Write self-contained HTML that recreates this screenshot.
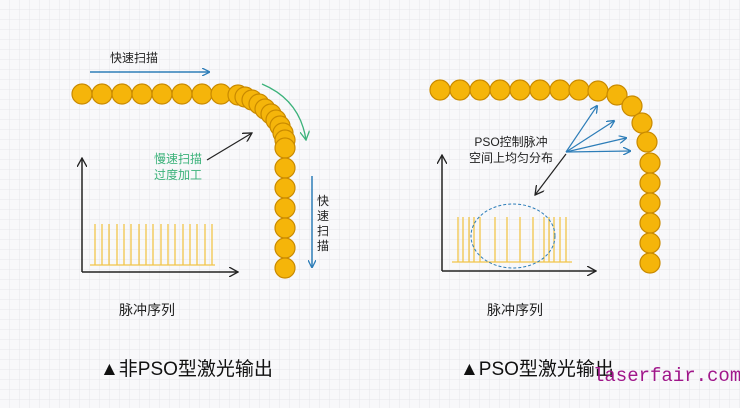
<!DOCTYPE html>
<html><head><meta charset="utf-8"><style>
html,body{margin:0;padding:0;background:#f7f7f8;}
svg{display:block;font-family:"Liberation Sans","Noto Sans CJK SC",sans-serif;}
</style></head><body>
<svg width="740" height="408" viewBox="0 0 740 408" xmlns="http://www.w3.org/2000/svg">
<defs>
<pattern id="g" width="10" height="10" patternUnits="userSpaceOnUse"><path d="M10 0V10H0" fill="none" stroke="#e6e6ea" stroke-width="1"/></pattern>
<marker id="ab" markerWidth="8" markerHeight="8" refX="7" refY="4" orient="auto" markerUnits="userSpaceOnUse"><path d="M0,0L8,4L0,8" fill="none" stroke="#2d7db8" stroke-width="1.3"/></marker>
<marker id="ak" markerWidth="10" markerHeight="10" refX="9" refY="5" orient="auto" markerUnits="userSpaceOnUse"><path d="M0,0L9,5L0,10" fill="none" stroke="#222" stroke-width="1.3"/></marker>
<marker id="ag" markerWidth="10" markerHeight="10" refX="9" refY="5" orient="auto" markerUnits="userSpaceOnUse"><path d="M0,0L9,5L0,10" fill="none" stroke="#3bb27a" stroke-width="1.3"/></marker>
</defs>
<rect width="740" height="408" fill="#f8f8fa"/>
<rect width="740" height="408" fill="url(#g)"/>
<g fill="#f5b50a" stroke="#c98a00" stroke-width="1.2">
<circle cx="82" cy="94" r="10"/><circle cx="102" cy="94" r="10"/><circle cx="122" cy="94" r="10"/><circle cx="142" cy="94" r="10"/><circle cx="162" cy="94" r="10"/><circle cx="182" cy="94" r="10"/><circle cx="202" cy="94" r="10"/><circle cx="221" cy="94" r="10"/>
<circle cx="238" cy="95" r="10"/><circle cx="245" cy="97" r="10"/><circle cx="252" cy="100" r="10"/><circle cx="259" cy="104" r="10"/><circle cx="265" cy="109" r="10"/><circle cx="271" cy="114" r="10"/><circle cx="276" cy="120" r="10"/><circle cx="280" cy="126" r="10"/><circle cx="283" cy="133" r="10"/><circle cx="285" cy="140" r="10"/><circle cx="285" cy="148" r="10"/>
<circle cx="285" cy="168" r="10"/><circle cx="285" cy="188" r="10"/><circle cx="285" cy="208" r="10"/><circle cx="285" cy="228" r="10"/><circle cx="285" cy="248" r="10"/><circle cx="285" cy="268" r="10"/>
<circle cx="440" cy="90" r="10"/><circle cx="460" cy="90" r="10"/><circle cx="480" cy="90" r="10"/><circle cx="500" cy="90" r="10"/><circle cx="520" cy="90" r="10"/><circle cx="540" cy="90" r="10"/><circle cx="560" cy="90" r="10"/><circle cx="579" cy="90" r="10"/><circle cx="598" cy="91" r="10"/>
<circle cx="617" cy="95" r="10"/><circle cx="632" cy="106" r="10"/><circle cx="642" cy="123" r="10"/><circle cx="647" cy="142" r="10"/><circle cx="650" cy="163" r="10"/><circle cx="650" cy="183" r="10"/><circle cx="650" cy="203" r="10"/><circle cx="650" cy="223" r="10"/><circle cx="650" cy="243" r="10"/><circle cx="650" cy="263" r="10"/>
</g>
<text x="110" y="62" font-size="12" fill="#222">快速扫描</text>
<line x1="90" y1="72" x2="209" y2="72" stroke="#2d7db8" stroke-width="1.5" marker-end="url(#ab)"/>
<path d="M262,84 Q300,100 306,140" fill="none" stroke="#3bb27a" stroke-width="1.3" marker-end="url(#ag)"/>
<text x="178" y="163" font-size="12" fill="#3bb27a" text-anchor="middle">慢速扫描</text>
<text x="178" y="179" font-size="12" fill="#3bb27a" text-anchor="middle">过度加工</text>
<line x1="207" y1="160" x2="252" y2="133" stroke="#222" stroke-width="1.2" marker-end="url(#ak)"/>
<line x1="312" y1="176" x2="312" y2="267" stroke="#2d7db8" stroke-width="1.5" marker-end="url(#ab)"/>
<g font-size="12" fill="#222" text-anchor="middle"><text x="323" y="205">快</text><text x="323" y="220">速</text><text x="323" y="235">扫</text><text x="323" y="250">描</text></g>
<line x1="82" y1="272" x2="82" y2="158" stroke="#222" stroke-width="1.5" marker-end="url(#ak)"/>
<line x1="82" y1="272" x2="238" y2="272" stroke="#222" stroke-width="1.5" marker-end="url(#ak)"/>
<g fill="none" stroke="#f2c54a" stroke-width="1.3">
<path d="M90,265 H215"/>
<path d="M95,265 V224 M102,265 V224 M109,265 V224 M117,265 V224 M124,265 V224 M131,265 V224 M139,265 V224 M146,265 V224 M153,265 V224 M161,265 V224 M168,265 V224 M175,265 V224 M183,265 V224 M190,265 V224 M197,265 V224 M205,265 V224 M212,265 V224"/>
</g>
<text x="147" y="315" font-size="14" fill="#222" text-anchor="middle">脉冲序列</text>
<text x="100" y="375" font-size="19" fill="#111">▲非PSO型激光输出</text>
<text x="511" y="146" font-size="12" fill="#222" text-anchor="middle">PSO控制脉冲</text>
<text x="511" y="162" font-size="12" fill="#222" text-anchor="middle">空间上均匀分布</text>
<g stroke="#2d7db8" stroke-width="1.2">
<line x1="566" y1="152" x2="597" y2="106" marker-end="url(#ab)"/>
<line x1="566" y1="152" x2="614" y2="121" marker-end="url(#ab)"/>
<line x1="566" y1="152" x2="626" y2="138" marker-end="url(#ab)"/>
<line x1="566" y1="152" x2="630" y2="151" marker-end="url(#ab)"/>
</g>
<line x1="566" y1="154" x2="535" y2="195" stroke="#222" stroke-width="1.2" marker-end="url(#ak)"/>
<line x1="442" y1="271" x2="442" y2="155" stroke="#222" stroke-width="1.5" marker-end="url(#ak)"/>
<line x1="442" y1="271" x2="596" y2="271" stroke="#222" stroke-width="1.5" marker-end="url(#ak)"/>
<g fill="none" stroke="#f2c54a" stroke-width="1.3">
<path d="M452,262 H572"/>
<path d="M458,262 V217 M463,262 V217 M469,262 V217 M474,262 V217 M480,262 V217 M495,262 V217 M507,262 V217 M520,262 V217 M533,262 V217 M544,262 V217 M549,262 V217 M554,262 V217 M560,262 V217 M566,262 V217"/>
</g>
<ellipse cx="513" cy="236" rx="42" ry="32" fill="none" stroke="#2d7db8" stroke-width="1" stroke-dasharray="3,2"/>
<text x="515" y="315" font-size="14" fill="#222" text-anchor="middle">脉冲序列</text>
<text x="460" y="375" font-size="19" fill="#111">▲PSO型激光输出</text>
<text x="593" y="381" font-size="19" fill="#a0168a" font-family="Liberation Mono, monospace">laserfair.com</text>
</svg>
</body></html>
